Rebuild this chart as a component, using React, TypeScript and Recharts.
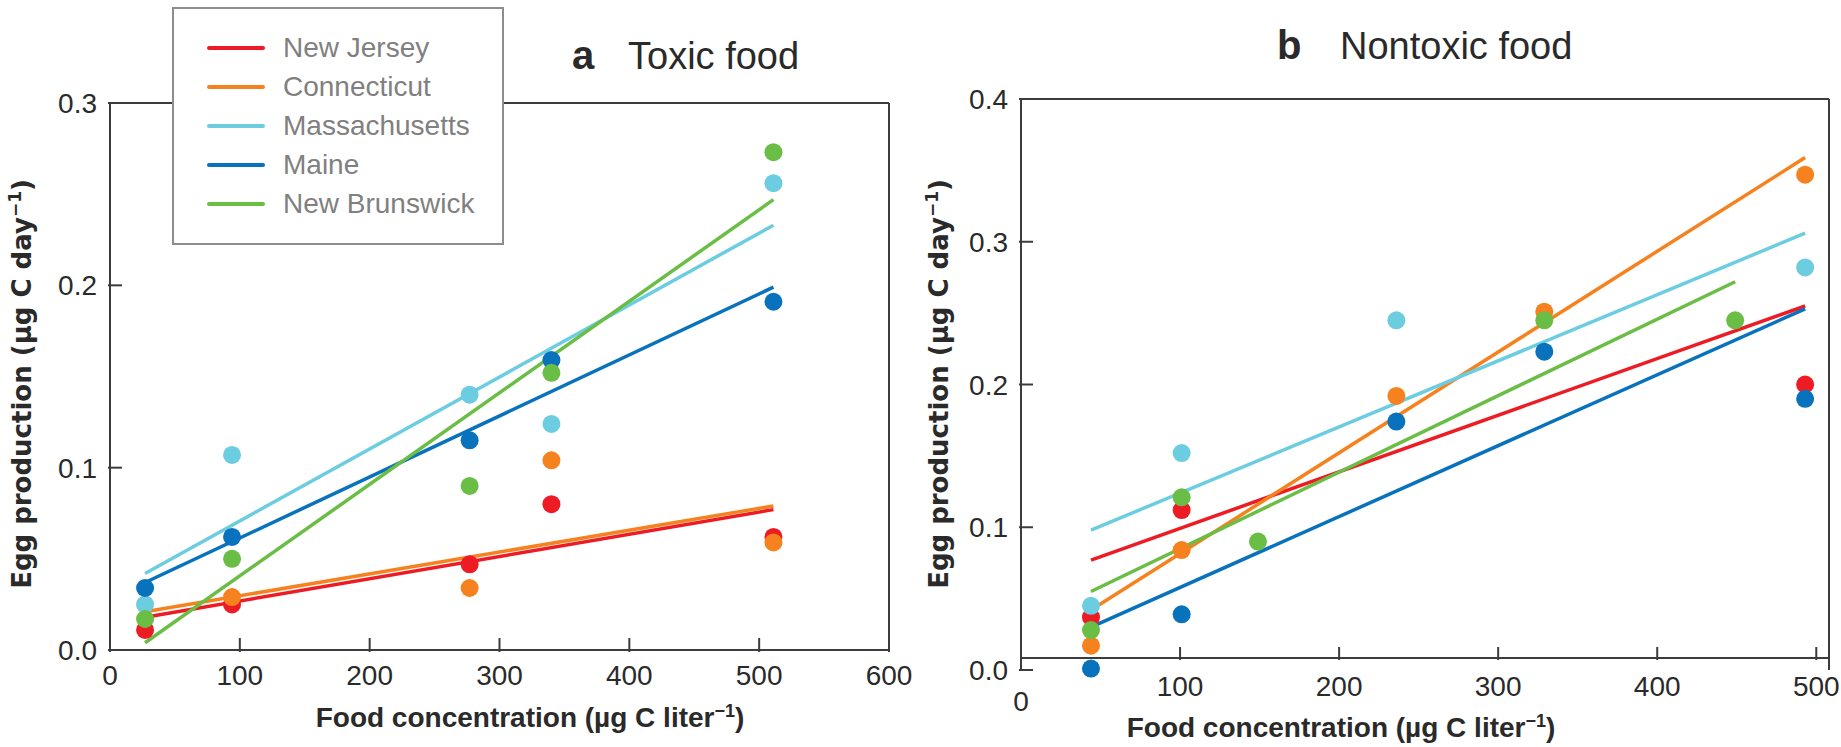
import {
    ComposedChart, Scatter, Line, XAxis, YAxis, ReferenceLine, Legend, Label
} from "recharts";

// States in the study
const states = ["New Jersey", "Connecticut", "Massachusetts", "Maine", "New Brunswick"];

// a: toxic food, measured egg production (x = food conc, y = egg prod)
const toxicNewJersey = [{ x: 27, y: 0.011 }, { x: 94, y: 0.025 }, { x: 277, y: 0.047 }, { x: 340, y: 0.080 }, { x: 511, y: 0.062 }];
const toxicConnecticut = [{ x: 94, y: 0.029 }, { x: 277, y: 0.034 }, { x: 340, y: 0.104 }, { x: 511, y: 0.059 }];
const toxicMassachusetts = [{ x: 27, y: 0.025 }, { x: 94, y: 0.107 }, { x: 277, y: 0.140 }, { x: 340, y: 0.124 }, { x: 511, y: 0.256 }];
const toxicMaine = [{ x: 27, y: 0.034 }, { x: 94, y: 0.062 }, { x: 277, y: 0.115 }, { x: 340, y: 0.159 }, { x: 511, y: 0.191 }];
const toxicNewBrunswick = [{ x: 27, y: 0.017 }, { x: 94, y: 0.050 }, { x: 277, y: 0.090 }, { x: 340, y: 0.152 }, { x: 511, y: 0.273 }];

// a: regression lines (end points)
const toxicFitNewJersey = [{ x: 27, y: 0.018 }, { x: 511, y: 0.077 }];
const toxicFitConnecticut = [{ x: 27, y: 0.021 }, { x: 511, y: 0.079 }];
const toxicFitMassachusetts = [{ x: 27, y: 0.042 }, { x: 511, y: 0.233 }];
const toxicFitMaine = [{ x: 27, y: 0.037 }, { x: 511, y: 0.199 }];
const toxicFitNewBrunswick = [{ x: 27, y: 0.004 }, { x: 511, y: 0.247 }];

// b: nontoxic food
const nontoxicNewJersey = [{ x: 44, y: 0.037 }, { x: 101, y: 0.112 }, { x: 493, y: 0.200 }];
const nontoxicConnecticut = [{ x: 44, y: 0.017 }, { x: 101, y: 0.084 }, { x: 236, y: 0.192 }, { x: 329, y: 0.251 }, { x: 493, y: 0.347 }];
const nontoxicMassachusetts = [{ x: 44, y: 0.045 }, { x: 101, y: 0.152 }, { x: 236, y: 0.245 }, { x: 493, y: 0.282 }];
const nontoxicMaine = [{ x: 44, y: 0.001 }, { x: 101, y: 0.039 }, { x: 236, y: 0.174 }, { x: 329, y: 0.223 }, { x: 493, y: 0.190 }];
const nontoxicNewBrunswick = [{ x: 44, y: 0.028 }, { x: 101, y: 0.121 }, { x: 149, y: 0.090 }, { x: 329, y: 0.245 }, { x: 449, y: 0.245 }];

const nontoxicFitNewJersey = [{ x: 44, y: 0.077 }, { x: 493, y: 0.255 }];
const nontoxicFitConnecticut = [{ x: 44, y: 0.042 }, { x: 493, y: 0.359 }];
const nontoxicFitMassachusetts = [{ x: 44, y: 0.098 }, { x: 493, y: 0.306 }];
const nontoxicFitMaine = [{ x: 44, y: 0.030 }, { x: 493, y: 0.253 }];
const nontoxicFitNewBrunswick = [{ x: 44, y: 0.055 }, { x: 449, y: 0.272 }];

// ticks
const xTicksA = [0, 100, 200, 300, 400, 500, 600];
const yTicksA = [0, 0.1, 0.2, 0.3];
const xTicksB = [0, 100, 200, 300, 400, 500];
const yTicksB = [0, 0.1, 0.2, 0.3, 0.4];

const COLORS = ["#ed1c24", "#f5821f", "#6dcde0", "#0872bd", "#6abd45"];

const toxicPoints = [toxicNewJersey, toxicConnecticut, toxicMassachusetts, toxicMaine, toxicNewBrunswick];
const toxicFits = [toxicFitNewJersey, toxicFitConnecticut, toxicFitMassachusetts, toxicFitMaine, toxicFitNewBrunswick];
const nontoxicPoints = [nontoxicNewJersey, nontoxicConnecticut, nontoxicMassachusetts, nontoxicMaine, nontoxicNewBrunswick];
const nontoxicFits = [nontoxicFitNewJersey, nontoxicFitConnecticut, nontoxicFitMassachusetts, nontoxicFitMaine, nontoxicFitNewBrunswick];

const NARROW = "'Liberation Sans Narrow', 'Liberation Sans', sans-serif";
const FRAME = "#3c3c3c";
const TEXT = "#2a2a2a";

const dot = (color: string) => (p: any) => <circle cx={p.cx} cy={p.cy} r={9} fill={color} />;

// x ticks pointing up into the plot, labels below
const XTickA = (p: any) => (
    <g>
        <line x1={p.x} y1={p.y} x2={p.x} y2={p.y - 14} stroke={FRAME} strokeWidth={2} />
        <text x={p.x} y={p.y + 33} textAnchor="middle" fontFamily={NARROW} fontSize={28} fill={TEXT}>
            {p.payload.value}
        </text>
    </g>
);

const XTickB = (p: any) => {
    const zero = p.payload.value === 0;
    return (
        <g>
            {!zero && <line x1={p.x} y1={p.y - 12} x2={p.x} y2={p.y - 25} stroke={FRAME} strokeWidth={2} />}
            <text x={p.x} y={p.y + (zero ? 39 : 24)} textAnchor="middle" fontFamily={NARROW} fontSize={28} fill={TEXT}>
                {p.payload.value}
            </text>
        </g>
    );
};

const YTick = (p: any) => (
    <g>
        <line x1={p.x} y1={p.y} x2={p.x + 14} y2={p.y} stroke={FRAME} strokeWidth={2} />
        <text x={p.x - 11} y={p.y + 10} textAnchor="end" fontFamily={NARROW} fontSize={28} fill={TEXT}>
            {Number(p.payload.value).toFixed(1)}
        </text>
    </g>
);

const yTitle = (cx: number) => () => (
    <text
        x={cx} y={384} textAnchor="middle" dy="0.35em" transform={`rotate(-90, ${cx}, 384)`}
        fontFamily="'DejaVu Sans', sans-serif" fontWeight="bold" fontSize={26} fill={TEXT}
    >
        Egg production (µg C day<tspan fontSize={17} baselineShift="super">−1</tspan>)
    </text>
);

const xTitle = (cx: number, y: number) => () => (
    <text x={cx} y={y} textAnchor="middle" fontFamily={NARROW} fontWeight="bold" fontSize={28} fill={TEXT}>
        Food concentration (µg C liter<tspan fontSize={18} baselineShift="super">−1</tspan>)
    </text>
);

const panelTitle = (lx: number, tx: number, y: number, letter: string, name: string) => () => (
    <text y={y} fill={TEXT}>
        <tspan x={lx} fontFamily="'Liberation Sans', sans-serif" fontWeight="bold" fontSize={40}>{letter}</tspan>
        <tspan x={tx} fontFamily={NARROW} fontSize={38}>{name}</tspan>
    </text>
);

const LegendBox = () => (
    <div style={{
        width: "100%", height: "100%", boxSizing: "border-box", border: "2px solid #8d8d8d",
        background: "#fff", position: "relative"
    }}>
        {states.map((s, i) => (
            <div key={s} style={{ position: "absolute", left: 0, top: 39 + i * 39.1 - 20, height: 40, width: "100%" }}>
                <div style={{ position: "absolute", left: 33, top: 18, width: 58, height: 4, background: COLORS[i], borderRadius: 2 }} />
                <div style={{
                    position: "absolute", left: 109, top: 0, lineHeight: "40px", fontFamily: NARROW,
                    fontSize: 28, color: "#808080", whiteSpace: "nowrap"
                }}>{s}</div>
            </div>
        ))}
    </div>
);

const App = () => {
    return (
        <div style={{ position: "absolute", left: 0, top: 0, width: 1841, height: 747, background: "#fff" }}>
            {/* a  Toxic food */}
            <div style={{ position: "absolute", left: 0, top: 0 }}>
                <ComposedChart width={920} height={747} margin={{ top: 103, right: 31, bottom: 67, left: 50 }}>
                    <XAxis
                        type="number" dataKey="x" domain={[0, 600]} ticks={xTicksA} interval={0}
                        height={30} tickSize={0} tickLine={false} tick={XTickA}
                        axisLine={{ stroke: FRAME, strokeWidth: 2 }}
                    >
                        <Label content={xTitle(530, 727)} />
                    </XAxis>
                    <YAxis
                        type="number" dataKey="y" domain={[0, 0.3]} ticks={yTicksA} interval={0}
                        width={60} tickSize={0} tickLine={false} tick={YTick}
                        axisLine={{ stroke: FRAME, strokeWidth: 2 }}
                    >
                        <Label content={yTitle(22)} />
                        <Label content={panelTitle(572, 628, 69, "a", "Toxic food")} />
                    </YAxis>
                    <ReferenceLine y={0.3} stroke={FRAME} strokeWidth={2} />
                    <ReferenceLine x={600} stroke={FRAME} strokeWidth={2} />
                    {toxicFits.map((d, i) => (
                        <Line key={`fa-${i}`} data={d} dataKey="y" stroke={COLORS[i]} strokeWidth={3.5}
                            dot={false} activeDot={false} isAnimationActive={false} />
                    ))}
                    {toxicPoints.map((d, i) => (
                        <Scatter key={`pa-${i}`} data={d} fill={COLORS[i]} shape={dot(COLORS[i])} isAnimationActive={false} />
                    ))}
                    <Legend
                        layout="vertical" align="center" verticalAlign="middle"
                        wrapperStyle={{ left: 172, top: 7, width: 332, height: 238 }}
                        content={() => <LegendBox />}
                    />
                </ComposedChart>
            </div>

            {/* b  Nontoxic food */}
            <div style={{ position: "absolute", left: 920, top: 0 }}>
                <ComposedChart width={921} height={747} margin={{ top: 99, right: 12, bottom: 47, left: 41 }}>
                    <XAxis
                        type="number" dataKey="x" domain={[0, 508]} ticks={xTicksB} interval={0}
                        height={30} tickSize={0} tickLine={false} tick={XTickB} axisLine={false}
                    >
                        <Label content={xTitle(421, 737)} />
                    </XAxis>
                    <YAxis
                        type="number" dataKey="y" domain={[0, 0.4]} ticks={yTicksB} interval={0}
                        width={60} tickSize={0} tickLine={false} tick={YTick}
                        axisLine={{ stroke: FRAME, strokeWidth: 2 }}
                    >
                        <Label content={yTitle(19)} />
                        <Label content={panelTitle(357, 420, 59, "b", "Nontoxic food")} />
                    </YAxis>
                    <ReferenceLine y={0.4} stroke={FRAME} strokeWidth={2} />
                    <ReferenceLine x={508} stroke={FRAME} strokeWidth={2} />
                    <ReferenceLine y={0.0084} stroke={FRAME} strokeWidth={2} />
                    {nontoxicFits.map((d, i) => (
                        <Line key={`fb-${i}`} data={d} dataKey="y" stroke={COLORS[i]} strokeWidth={3.5}
                            dot={false} activeDot={false} isAnimationActive={false} />
                    ))}
                    {nontoxicPoints.map((d, i) => (
                        <Scatter key={`pb-${i}`} data={d} fill={COLORS[i]} shape={dot(COLORS[i])} isAnimationActive={false} />
                    ))}
                </ComposedChart>
            </div>
        </div>
    );
};

export default App;
